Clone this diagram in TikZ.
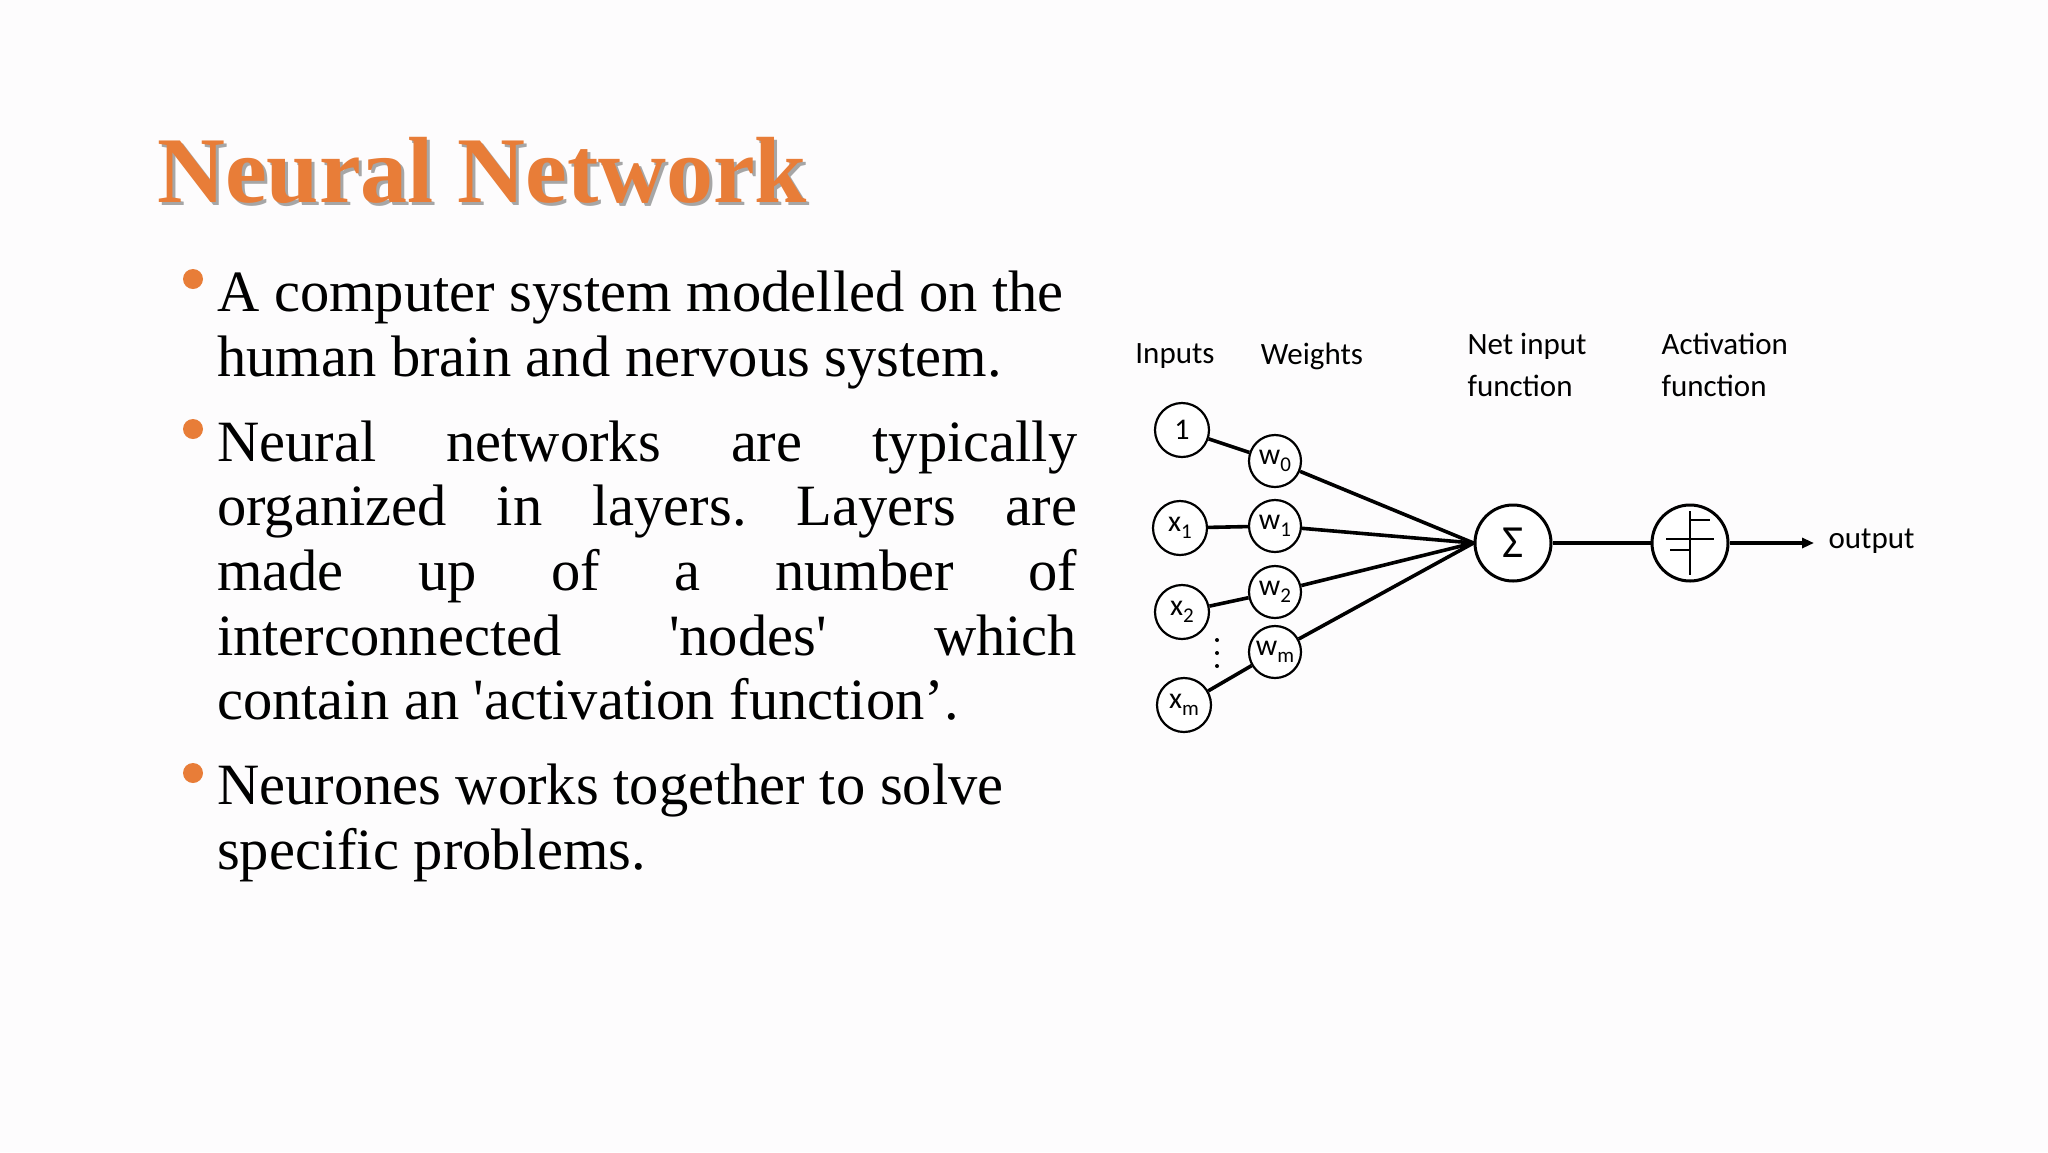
\documentclass[tikz,border=0pt]{standalone}
\usepackage{fontspec}
\setmainfont{Liberation Serif}
\newfontfamily\diag{Carlito}
\usetikzlibrary{arrows.meta}
\definecolor{ttl}{HTML}{E87D38}
\definecolor{bg}{HTML}{FDFCFD}
\newcommand{\sbs}[1]{\raisebox{-0.45ex}{\fontsize{21}{21}\selectfont #1}}
\newcommand{\sq}{\textquotesingle}
\tikzset{
  inp/.style={circle,draw,line width=2.2pt,minimum size=54pt,inner sep=0pt,font=\diag\fontsize{30}{30}\selectfont,fill=white},
  wgt/.style={circle,draw,line width=2.2pt,minimum size=52pt,inner sep=0pt,font=\diag\fontsize{30}{30}\selectfont,fill=white},
  big/.style={circle,draw,line width=3pt,minimum size=76pt,inner sep=0pt,fill=white},
  lab/.style={font=\diag\fontsize{31}{42}\selectfont,align=left},
  con/.style={line width=3.6pt},
  bul/.style={circle,fill=ttl,minimum size=20pt,inner sep=0pt},
  dot/.style={circle,fill=black,minimum size=4pt,inner sep=0pt},
}
\begin{document}
\begin{tikzpicture}[x=1pt,y=-1pt]
\fill[bg] (0,0) rectangle (2048,1152);
\useasboundingbox (0,0) rectangle (2048,1152);
% title
\node[anchor=base west,text=black!35,font=\bfseries\fontsize{94}{94}\selectfont,inner sep=0] (tsh) at (160,205) {Neural Network};
\node[anchor=base west,text=ttl,font=\bfseries\fontsize{94}{94}\selectfont,inner sep=0] (title) at (157,202) {Neural Network};
% bullets
\node[bul] (b1) at (193,279) {};
\node[bul] (b2) at (193,429) {};
\node[bul] (b3) at (193,773) {};
\node[anchor=base west,inner sep=0] (p1) at (217,311) {\parbox[t]{860pt}{\fontsize{58.5}{65}\selectfont A computer system modelled on the\\human brain and nervous system.}};
\node[anchor=base west,inner sep=0] (p2) at (217,461) {\parbox[t]{860pt}{\fontsize{58.5}{64.7}\selectfont\frenchspacing\hyphenpenalty=10000\exhyphenpenalty=10000\parindent=0pt Neural networks are typically\linebreak organized in layers. Layers are\linebreak made up of a number of\linebreak interconnected \sq nodes\sq{} which\linebreak contain an \sq activation function’.}};
\node[anchor=base west,inner sep=0] (p3) at (217,804) {\parbox[t]{860pt}{\fontsize{58.5}{65}\selectfont Neurones works together to solve\\specific problems.}};
% diagram labels
\node[lab,anchor=center] (linp) at (1175,356) {Inputs};
\node[lab,anchor=center] (lw) at (1312,356) {Weights};
\node[lab,anchor=north west] (lnet) at (1464,330) {Net input\\function};
\node[lab,anchor=north west] (lact) at (1658,330) {Activation\\function};
% nodes
\node[inp] (i0) at (1182,430) {1};
\node[inp] (i1) at (1180,528) {x\sbs{1}};
\node[inp] (i2) at (1182,612) {x\sbs{2}};
\node[inp] (im) at (1184,705) {x\sbs{m}};
\node[wgt] (w0) at (1275,461) {w\sbs{0}};
\node[wgt] (w1) at (1275,526) {w\sbs{1}};
\node[wgt] (w2) at (1275,592) {w\sbs{2}};
\node[wgt] (wm) at (1275,652) {w\sbs{m}};
\node[big,font=\diag\fontsize{46}{46}\selectfont] (sum) at (1513,543) {Σ};
\node[big] (act) at (1690,543) {};
\coordinate (oe) at (1814,543);
\node[lab,anchor=west] (out) at (1825,541) {output};
% connectors
\draw[con] (i0) -- (w0);
\draw[con] (i1) -- (w1);
\draw[con] (i2) -- (w2);
\draw[con] (im) -- (wm);
\foreach \w in {w0,w1,w2,wm}{\draw[con] (\w) -- (sum.west);}
\draw[con] (sum) -- (act);
\draw[con,-{Triangle[length=12pt,width=10pt]}] (act) -- (oe);
% activation glyph
\draw[line width=2.6pt] (act.center)++(0,-32) -- ++(0,64)
  (act.center)++(0,-23) -- ++(20,0)
  (act.center)++(-20,7) -- ++(20,0)
  (act.center)++(-24,-4) -- ++(48,0);
% dots
\node[dot] (d1) at (1217,640) {};
\node[dot] (d2) at (1217,653) {};
\node[dot] (d3) at (1217,666) {};
\end{tikzpicture}
\end{document}
